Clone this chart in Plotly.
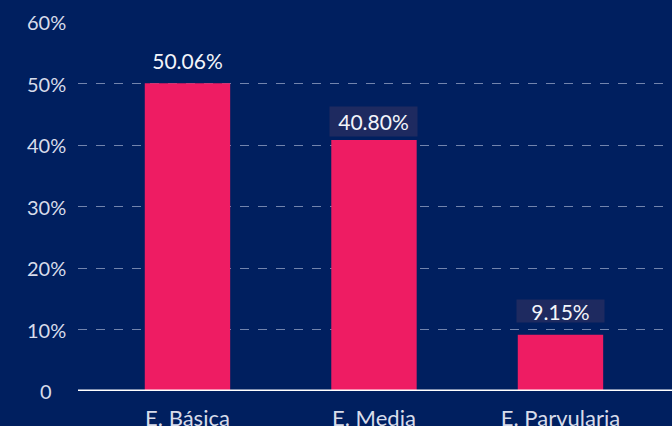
import plotly.graph_objects as go

categories = ["E. Básica", "E. Media", "E. Parvularia"]
values = [0.5006, 0.4080, 0.0915]
value_labels = ["50.06%", "40.80%", "9.15%"]
ytick_vals = [0, 0.1, 0.2, 0.3, 0.4, 0.5, 0.6]
ytick_text = ["0", "10%", "20%", "30%", "40%", "50%", "60%"]

# label box styles (per bar)
label_bg = ["rgba(0,0,0,0)", "#1e2a60", "#1e2a60"]
label_h = [27, 27, 20]
label_shift = [7, 3, 12]

BG = "#001f5f"
PINK = "#ee1c63"
FONT = "Lato"

fig = go.Figure()
fig.add_trace(go.Bar(
    x=categories, y=values,
    marker=dict(color=PINK, line=dict(width=0)),
    hoverinfo="skip",
))

for c, v, t, bg, h, s in zip(categories, values, value_labels, label_bg, label_h, label_shift):
    fig.add_annotation(
        x=c, y=v, xref="x", yref="y", text=t, showarrow=False,
        yanchor="bottom", yshift=s, width=85, height=h, valign="middle",
        bgcolor=bg, font=dict(family=FONT, size=21, color="#f4f5fa"),
    )

for v, t in zip(ytick_vals, ytick_text):
    fig.add_annotation(
        x=0, y=v, xref="paper", yref="y", text=t, showarrow=False,
        xanchor="center", yanchor="middle", xshift=-32,
        font=dict(family=FONT, size=20, color="#d8dcea"),
    )

fig.add_shape(type="line", xref="paper", yref="y", x0=0, x1=1, y0=0, y1=0,
              line=dict(color="#ffffff", width=3), layer="above")

fig.update_layout(
    width=672, height=426,
    margin=dict(l=78, r=0, t=22, b=35, autoexpand=False),
    paper_bgcolor=BG, plot_bgcolor=BG,
    bargap=0.542,
    showlegend=False,
    xaxis=dict(
        type="category", range=[-0.587, 2.598], automargin=False,
        showgrid=False, zeroline=False, showline=False, ticks="",
        tickfont=dict(family=FONT, size=22, color="#d8dcea"),
        ticklabelstandoff=12,
    ),
    yaxis=dict(
        range=[0, 0.6], tickvals=ytick_vals, showticklabels=False, automargin=False,
        showgrid=True, gridcolor="rgba(190,200,225,0.6)", griddash="dash", gridwidth=1,
        zeroline=False, showline=False,
    ),
)

fig.write_html("out.html", config={"displayModeBar": False},
               post_script="document.body.style.margin='0';document.body.style.overflow='hidden';")
